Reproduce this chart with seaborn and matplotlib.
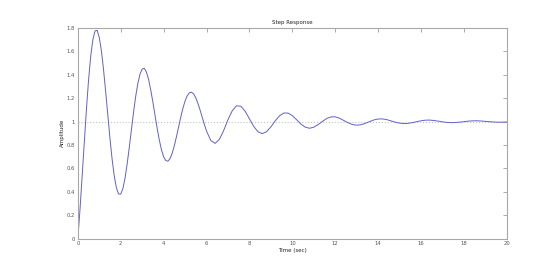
import pandas as pd
import seaborn as sns
import matplotlib.pyplot as plt
from matplotlib.ticker import FormatStrFormatter

# Step response (0.1 s steps to 6 s, then 0.2 s steps)
time_sec = [
    0.0, 0.1, 0.2, 0.3, 0.4, 0.5, 0.6, 0.7, 0.8, 0.9,
    1.0, 1.1, 1.2, 1.3, 1.4, 1.5, 1.6, 1.7, 1.8, 1.9,
    2.0, 2.1, 2.2, 2.3, 2.4, 2.5, 2.6, 2.7, 2.8, 2.9,
    3.0, 3.1, 3.2, 3.3, 3.4, 3.5, 3.6, 3.7, 3.8, 3.9,
    4.0, 4.1, 4.2, 4.3, 4.4, 4.5, 4.6, 4.7, 4.8, 4.9,
    5.0, 5.1, 5.2, 5.3, 5.4, 5.5, 5.6, 5.7, 5.8, 5.9,
    6.0, 6.2, 6.4, 6.6, 6.8, 7.0, 7.2, 7.4, 7.6, 7.8,
    8.0, 8.2, 8.4, 8.6, 8.8, 9.0, 9.2, 9.4, 9.6, 9.8,
    10.0, 10.2, 10.4, 10.6, 10.8, 11.0, 11.2, 11.4, 11.6, 11.8,
    12.0, 12.2, 12.4, 12.6, 12.8, 13.0, 13.2, 13.4, 13.6, 13.8,
    14.0, 14.2, 14.4, 14.6, 14.8, 15.0, 15.2, 15.4, 15.6, 15.8,
    16.0, 16.2, 16.4, 16.6, 16.8, 17.0, 17.2, 17.4, 17.6, 17.8,
    18.0, 18.2, 18.4, 18.6, 18.8, 19.0, 19.2, 19.4, 19.6, 19.8,
    20.0,
]
amplitude = [
    0.0, 0.248, 0.529, 0.822, 1.104, 1.355, 1.558, 1.700, 1.775, 1.780,
    1.719, 1.602, 1.441, 1.251, 1.049, 0.852, 0.675, 0.532, 0.432, 0.381,
    0.380, 0.427, 0.517, 0.639, 0.782, 0.935, 1.084, 1.219, 1.329, 1.407,
    1.449, 1.455, 1.422, 1.359, 1.270, 1.165, 1.052, 0.941, 0.841, 0.758,
    0.699, 0.667, 0.662, 0.684, 0.730, 0.795, 0.873, 0.956, 1.039, 1.114,
    1.176, 1.221, 1.246, 1.251, 1.236, 1.203, 1.155, 1.098, 1.036, 0.975,
    0.919, 0.838, 0.814, 0.848, 0.924, 1.016, 1.093, 1.135, 1.131, 1.089,
    1.024, 0.959, 0.913, 0.897, 0.914, 0.955, 1.006, 1.049, 1.073, 1.073,
    1.051, 1.016, 0.979, 0.953, 0.943, 0.952, 0.974, 1.001, 1.026, 1.040,
    1.041, 1.029, 1.010, 0.990, 0.975, 0.969, 0.973, 0.985, 1.000, 1.014,
    1.022, 1.023, 1.017, 1.006, 0.995, 0.987, 0.983, 0.985, 0.991, 0.999,
    1.007, 1.012, 1.013, 1.009, 1.004, 0.998, 0.993, 0.991, 0.992, 0.995,
    0.999, 1.004, 1.006, 1.007, 1.005, 1.002, 0.999, 0.996, 0.995, 0.995,
    0.997,
]
final_value = 1.0
x_ticks = [0, 2, 4, 6, 8, 10, 12, 14, 16, 18, 20]
y_ticks = [0, 0.2, 0.4, 0.6, 0.8, 1.0, 1.2, 1.4, 1.6, 1.8]

df = pd.DataFrame({'Time (sec)': time_sec, 'Amplitude': amplitude})

sns.set_style('white')
plt.rcParams['font.family'] = ['DejaVu Sans']

fig = plt.figure(figsize=(5.6, 2.69), dpi=100)
ax = fig.add_axes([0.139, 0.113, 0.766, 0.783])

ax.axhline(final_value, color='#c4c4c4', linestyle=':', linewidth=0.8, zorder=1)
sns.lineplot(data=df, x='Time (sec)', y='Amplitude', ax=ax, color='#6060cc',
             linewidth=0.7, sort=False, zorder=2)

ax.set_xlim(0, 20)
ax.set_ylim(0, 1.8)
ax.set_xticks(x_ticks)
ax.set_yticks(y_ticks)
ax.yaxis.set_major_formatter(FormatStrFormatter('%g'))

ax.tick_params(direction='in', top=True, right=True, length=3, width=0.5,
               color='#888888', labelsize=3.8, labelcolor='#555555', pad=2)
for s in ax.spines.values():
    s.set_color('#a8a8a8')
    s.set_linewidth(0.8)

ax.set_title('Step Response', fontsize=4, color='#222222', pad=3)
ax.set_xlabel('Time (sec)', fontsize=4, color='#222222', labelpad=1.5)
ax.set_ylabel('Amplitude', fontsize=4, color='#222222', labelpad=1)

fig.savefig('out.png', dpi=100, facecolor='white')
